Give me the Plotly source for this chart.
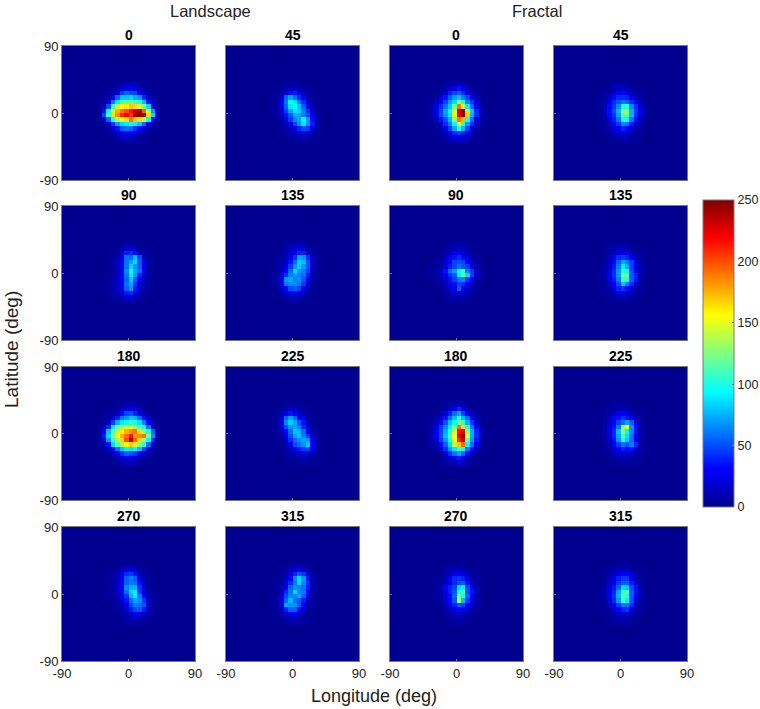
import numpy as np
import plotly.graph_objects as go

# counts, central 14x14 bins only (rows go top to bottom, lat +39 .. -39)
# everything outside that window is left at 0
landscape_0 = [
    [0,0,1,2,4,7,10,12,10,6,3,1,0,0],
    [0,0,2,4,8,15,25,28,20,12,6,3,1,0],
    [0,1,3,10,22,45,55,50,48,32,18,7,2,0],
    [0,2,8,25,55,80,80,85,75,68,40,15,5,1],
    [1,4,18,60,90,110,115,120,110,100,78,35,8,2],
    [2,12,50,110,145,155,160,170,165,150,125,85,25,4],
    [4,35,95,150,175,190,200,215,230,240,195,140,70,10],
    [5,50,110,160,185,210,220,205,245,250,240,165,85,12],
    [3,15,55,105,140,150,165,190,170,165,145,95,35,6],
    [1,5,15,45,70,85,90,95,90,80,58,28,8,2],
    [0,2,6,18,35,55,60,55,45,32,18,8,3,1],
    [0,1,3,8,16,25,30,26,18,12,6,3,1,0],
    [0,0,2,4,7,12,14,12,8,5,3,1,0,0],
    [0,0,1,2,3,5,6,5,4,3,1,0,0,0],
]
landscape_45 = [
    [0,0,0,1,1,3,5,5,4,2,1,0,0,0],
    [0,0,1,1,3,7,12,13,10,6,3,1,0,0],
    [0,0,1,3,7,18,35,38,28,14,6,2,1,0],
    [0,1,1,5,15,55,72,58,42,24,10,4,1,0],
    [0,1,2,7,25,60,95,88,60,42,20,6,2,0],
    [0,1,2,7,25,55,88,95,78,55,32,10,2,0],
    [0,0,2,6,20,45,70,88,82,62,45,18,4,1],
    [0,0,1,4,14,35,52,72,72,62,50,22,5,1],
    [0,0,1,3,8,20,45,65,72,92,68,32,7,2],
    [0,0,0,2,5,12,25,48,68,88,68,38,9,2],
    [0,0,0,1,3,6,12,25,40,50,46,20,6,1],
    [0,0,0,1,2,4,8,12,18,22,18,9,4,1],
    [0,0,0,0,1,2,4,6,9,10,8,4,2,0],
    [0,0,0,0,0,1,2,3,4,4,3,2,1,0],
]
fractal_0 = [
    [0,0,1,1,3,6,10,12,8,4,2,1,0,0],
    [0,0,1,3,7,15,25,35,22,12,6,2,1,0],
    [0,1,3,8,20,38,48,55,42,28,12,4,1,0],
    [0,2,6,18,35,55,70,78,62,48,28,10,2,1],
    [1,4,12,30,48,70,85,130,95,62,45,18,4,1],
    [2,6,22,42,60,80,120,190,145,90,58,32,8,2],
    [2,8,28,48,72,92,145,225,250,165,80,42,14,3],
    [2,6,24,48,68,88,150,220,250,170,75,42,12,3],
    [1,4,14,35,50,75,125,190,175,98,60,28,6,1],
    [1,2,6,20,42,62,92,155,105,70,42,15,4,1],
    [0,1,3,10,25,45,72,100,78,48,24,8,2,1],
    [0,0,1,5,12,25,40,45,38,20,10,4,1,0],
    [0,0,1,2,6,12,20,24,20,12,6,2,1,0],
    [0,0,0,1,3,6,10,12,10,6,3,2,1,0],
]
fractal_45 = [
    [0,0,0,1,2,4,6,6,4,2,1,0,0,0],
    [0,0,1,1,4,9,14,14,11,6,3,1,0,0],
    [0,0,1,3,8,16,30,32,24,14,6,2,1,0],
    [0,1,2,6,15,32,40,42,38,24,12,4,1,0],
    [0,1,3,8,24,40,52,60,55,42,28,10,2,1],
    [0,1,4,12,32,45,65,100,105,65,42,20,4,1],
    [0,1,4,14,34,48,75,125,130,75,46,24,6,1],
    [0,1,4,12,32,44,70,115,120,75,42,20,4,1],
    [0,1,3,8,24,38,60,100,95,60,36,14,3,1],
    [0,0,2,5,14,30,44,65,60,38,24,8,2,1],
    [0,0,1,3,8,18,30,40,32,20,10,4,1,0],
    [0,0,0,1,4,9,16,20,16,9,4,2,1,0],
    [0,0,0,1,2,5,9,10,9,5,3,1,0,0],
    [0,0,0,0,1,2,4,5,5,3,2,1,0,0],
]
landscape_90 = [
    [0,0,0,1,1,3,6,7,5,2,1,0,0,0],
    [0,0,1,1,3,7,15,18,10,5,2,1,0,0],
    [0,0,1,2,5,14,38,42,35,15,6,2,1,0],
    [0,0,1,3,8,24,58,58,78,50,15,4,1,0],
    [0,0,1,4,12,28,60,72,85,52,22,6,1,0],
    [0,0,1,4,12,28,60,85,68,55,28,8,2,0],
    [0,1,2,5,14,28,65,95,72,58,25,7,2,1],
    [0,1,2,6,14,28,60,90,68,38,20,6,2,1],
    [0,1,3,7,14,28,55,80,55,32,14,5,1,0],
    [1,2,4,8,16,26,60,72,45,22,10,4,1,0],
    [1,2,4,8,14,24,55,68,36,16,8,3,1,0],
    [0,1,3,6,10,16,35,40,20,10,5,2,1,0],
    [0,1,2,4,6,10,14,16,10,6,3,1,0,0],
    [0,0,1,2,3,5,8,8,6,3,2,1,0,0],
]
landscape_135 = [
    [0,0,0,0,1,3,6,10,10,6,2,1,0,0],
    [0,0,0,1,2,6,12,18,22,15,6,2,1,0],
    [0,0,0,1,4,9,18,32,40,38,20,6,2,0],
    [0,0,1,2,6,12,26,42,72,68,42,12,2,1],
    [0,0,1,3,7,15,35,58,82,78,52,16,3,1],
    [0,1,1,4,10,22,45,68,82,68,52,16,3,1],
    [0,1,2,5,12,30,58,85,68,62,48,14,2,0],
    [0,1,3,7,18,42,64,68,62,58,38,10,2,0],
    [0,1,3,8,24,68,72,62,66,52,26,8,1,0],
    [0,1,2,6,24,62,66,66,62,44,16,5,1,0],
    [0,0,2,4,14,32,50,54,48,26,10,3,1,0],
    [0,0,1,2,6,14,24,28,22,12,5,2,0,0],
    [0,0,0,1,3,6,10,12,10,6,2,1,0,0],
    [0,0,0,0,1,2,4,5,4,2,1,0,0,0],
]
fractal_90 = [
    [0,0,0,1,2,4,6,8,6,3,1,0,0,0],
    [0,0,1,2,4,6,12,15,10,6,2,1,0,0],
    [0,0,1,3,7,14,25,28,20,11,4,2,1,0],
    [0,1,2,6,14,26,35,42,32,20,9,3,1,0],
    [0,1,3,7,16,30,48,50,48,30,16,6,1,0],
    [1,2,4,10,22,38,48,60,52,46,22,8,2,0],
    [1,3,8,18,35,58,70,95,110,62,46,16,4,1],
    [1,2,6,14,28,42,52,90,120,85,48,14,3,1],
    [0,1,4,9,20,34,46,62,66,44,32,10,2,1],
    [0,1,2,6,14,26,34,48,42,30,16,5,1,0],
    [0,0,1,3,7,16,24,52,24,16,8,3,1,0],
    [0,0,0,2,4,9,16,16,14,8,4,1,0,0],
    [0,0,0,1,2,5,7,9,7,4,2,1,0,0],
    [0,0,0,0,1,2,4,5,4,2,1,0,0,0],
]
fractal_135 = [
    [0,0,0,1,2,3,5,5,4,2,1,0,0,0],
    [0,0,0,1,3,7,13,12,9,5,2,1,0,0],
    [0,0,1,2,6,14,24,28,24,16,6,2,0,0],
    [0,0,1,4,11,25,40,45,40,28,12,3,1,0],
    [0,1,1,5,14,32,55,72,62,48,24,7,1,0],
    [0,1,2,6,18,36,62,90,72,46,26,8,1,0],
    [1,1,3,8,22,42,68,105,95,50,30,10,2,0],
    [1,2,4,10,24,42,68,120,115,54,40,12,2,0],
    [0,1,3,8,22,36,62,110,100,54,36,10,2,0],
    [0,1,2,6,14,30,50,80,62,42,20,6,1,0],
    [0,0,2,4,8,18,38,44,34,20,8,3,1,0],
    [0,0,1,2,4,10,20,22,16,9,4,2,0,0],
    [0,0,0,1,2,5,9,10,9,5,2,1,0,0],
    [0,0,0,0,1,2,4,4,4,2,1,0,0,0],
]
landscape_180 = [
    [0,0,0,1,2,5,8,10,8,4,2,1,0,0],
    [0,0,1,2,6,12,22,26,18,9,4,2,0,0],
    [0,1,3,6,15,32,48,52,40,25,12,4,1,0],
    [0,2,6,15,38,60,68,80,75,58,35,12,3,1],
    [1,5,15,45,75,90,95,108,98,88,62,30,7,2],
    [2,12,42,90,120,132,145,150,128,115,95,62,18,3],
    [5,30,78,115,145,160,175,185,190,165,135,100,55,8],
    [6,38,85,125,155,175,190,215,180,185,190,125,68,10],
    [3,25,70,108,135,165,200,235,195,165,135,95,42,6],
    [2,10,35,85,115,132,155,170,145,128,105,58,15,3],
    [1,4,12,32,60,80,92,88,92,78,50,20,5,1],
    [0,2,4,12,25,42,55,50,45,30,14,6,2,0],
    [0,1,2,5,10,20,26,28,22,12,6,2,1,0],
    [0,0,1,2,4,8,12,12,10,6,3,1,0,0],
]
landscape_225 = [
    [0,0,0,1,2,4,6,6,4,2,1,0,0,0],
    [0,0,1,2,4,9,14,12,7,4,2,1,0,0],
    [0,0,1,3,8,24,35,28,16,9,4,1,0,0],
    [0,0,1,4,18,55,70,56,30,20,9,3,1,0],
    [0,0,1,5,22,65,82,72,52,36,14,4,1,0],
    [0,0,1,4,18,48,68,72,62,42,20,5,1,0],
    [0,0,1,3,12,32,58,80,76,58,30,8,2,0],
    [0,0,0,2,8,22,50,72,80,62,46,15,3,1],
    [0,0,0,2,5,15,42,58,66,72,68,26,5,1],
    [0,0,0,1,3,10,24,50,58,68,80,32,7,1],
    [0,0,0,0,2,6,14,24,35,45,48,24,6,1],
    [0,0,0,0,1,3,7,10,16,22,20,10,4,1],
    [0,0,0,0,0,2,4,6,8,10,8,5,2,1],
    [0,0,0,0,0,1,2,3,4,5,4,2,1,0],
]
fractal_180 = [
    [0,0,0,1,3,6,10,14,9,5,2,1,0,0],
    [0,0,1,3,7,15,28,40,24,12,6,2,1,0],
    [0,1,3,8,20,38,58,72,48,28,12,4,1,0],
    [1,2,6,18,35,58,78,100,78,58,30,10,2,1],
    [1,4,12,32,52,78,95,125,105,75,45,18,4,1],
    [2,6,22,45,65,90,122,190,165,102,62,34,8,2],
    [2,8,28,48,72,102,145,215,225,130,75,42,12,2],
    [2,8,28,50,78,108,155,225,245,150,75,42,12,2],
    [2,6,22,45,68,98,150,210,230,120,70,38,10,1],
    [1,3,12,34,55,85,140,170,195,92,58,25,6,1],
    [0,1,5,16,42,68,88,110,98,62,35,12,2,1],
    [0,0,2,6,22,42,60,72,56,32,14,5,1,0],
    [0,0,1,3,10,18,30,38,28,14,6,2,1,0],
    [0,0,0,1,4,8,14,18,12,6,3,1,0,0],
]
fractal_225 = [
    [0,0,0,1,2,3,5,6,4,2,1,0,0,0],
    [0,0,1,1,3,7,12,11,8,4,2,1,0,0],
    [0,0,1,2,6,14,26,28,20,11,4,2,0,0],
    [0,0,1,4,10,25,35,44,36,24,9,3,1,0],
    [0,1,2,5,14,30,48,60,72,54,24,6,1,0],
    [0,1,2,7,20,34,60,125,150,68,34,9,2,0],
    [0,1,2,8,22,40,78,130,92,64,36,11,2,0],
    [0,1,2,6,20,40,72,110,86,58,32,9,2,0],
    [0,1,2,4,16,34,68,100,82,58,30,9,2,0],
    [0,0,1,3,10,24,46,60,50,62,42,8,2,1],
    [0,0,0,2,6,16,30,38,32,36,20,6,2,1],
    [0,0,0,1,3,8,16,18,16,12,8,4,2,1],
    [0,0,0,0,2,5,8,10,9,7,6,4,2,1],
    [0,0,0,0,1,2,4,5,4,4,3,2,1,0],
]
landscape_270 = [
    [0,0,0,1,2,4,6,8,6,3,1,0,0,0],
    [0,0,1,2,5,11,20,20,14,6,3,1,0,0],
    [0,0,2,4,10,22,42,46,36,15,6,2,0,0],
    [0,1,2,6,14,26,55,62,54,24,10,3,1,0],
    [0,1,3,7,15,28,54,62,58,36,14,4,1,0],
    [0,1,3,7,16,30,66,75,75,44,20,6,1,0],
    [0,1,3,6,14,28,58,85,90,44,22,8,2,1],
    [0,1,2,4,10,22,44,75,90,62,30,9,2,1],
    [0,0,1,3,7,16,36,58,72,66,44,14,3,1],
    [0,0,1,2,5,10,26,48,62,58,52,16,4,1],
    [0,0,0,1,3,7,18,36,48,52,38,14,4,1],
    [0,0,0,1,2,5,10,22,28,26,15,7,2,0],
    [0,0,0,0,2,3,6,11,13,10,6,3,1,0],
    [0,0,0,0,1,2,3,6,7,5,2,1,0,0],
]
landscape_315 = [
    [0,0,0,0,1,2,5,8,10,7,2,1,0,0],
    [0,0,0,1,2,5,11,18,24,16,6,2,0,0],
    [0,0,0,1,3,8,18,40,52,44,20,5,1,0],
    [0,0,1,2,5,12,30,65,85,68,35,8,1,0],
    [0,0,1,3,6,18,42,60,85,64,42,12,2,0],
    [0,0,1,3,8,24,56,68,64,58,38,10,2,0],
    [0,0,1,4,12,40,60,85,64,62,32,8,1,0],
    [0,0,2,5,16,48,64,64,72,54,24,6,1,0],
    [0,1,2,6,22,56,76,58,54,38,14,4,1,0],
    [0,1,2,6,24,72,68,66,54,28,9,3,1,0],
    [0,0,2,4,14,38,55,54,32,16,6,2,0,0],
    [0,0,1,2,6,16,28,28,16,8,3,1,0,0],
    [0,0,0,1,3,7,12,12,8,4,2,1,0,0],
    [0,0,0,0,1,2,5,5,4,2,1,0,0,0],
]
fractal_270 = [
    [0,0,0,1,2,3,5,5,4,2,1,0,0,0],
    [0,0,0,1,3,7,10,12,9,5,2,1,0,0],
    [0,0,1,2,6,13,24,30,22,13,4,2,0,0],
    [0,1,2,4,11,22,40,44,38,22,9,3,1,0],
    [0,1,2,5,14,26,40,50,54,34,16,6,1,0],
    [1,2,4,10,30,38,48,85,90,50,28,8,2,0],
    [0,1,3,9,22,38,52,95,115,50,36,14,2,0],
    [0,1,2,7,20,34,56,120,100,58,30,10,2,0],
    [0,1,2,5,16,32,52,130,78,46,26,8,2,0],
    [0,0,1,4,10,24,38,52,46,30,16,5,1,0],
    [0,0,0,2,5,14,24,30,26,16,8,3,1,0],
    [0,0,0,1,3,7,13,16,13,7,4,2,0,0],
    [0,0,0,1,2,4,7,8,7,4,2,1,0,0],
    [0,0,0,0,1,2,4,5,4,2,1,0,0,0],
]
fractal_315 = [
    [0,0,0,1,2,2,5,5,4,2,1,0,0,0],
    [0,0,0,1,3,7,12,13,10,5,2,1,0,0],
    [0,0,1,2,6,13,22,28,30,20,6,2,0,0],
    [0,0,1,4,10,22,38,45,45,28,11,3,1,0],
    [0,1,2,5,14,28,46,54,54,38,20,6,1,0],
    [0,1,2,7,18,35,55,85,80,50,34,9,1,0],
    [0,1,2,8,24,40,72,105,115,54,36,11,2,0],
    [0,1,3,10,28,44,76,115,100,54,32,10,2,0],
    [0,1,2,6,20,40,68,110,90,50,24,7,1,0],
    [0,0,1,4,14,28,44,62,58,42,16,5,1,0],
    [0,0,1,2,7,16,30,40,44,22,9,3,1,0],
    [0,0,0,1,4,9,16,20,16,10,4,2,0,0],
    [0,0,0,1,2,5,8,10,8,5,2,1,0,0],
    [0,0,0,0,1,2,4,5,4,2,1,0,0,0],
]

panel_titles = [
    ["0", "45", "0", "45"],
    ["90", "135", "90", "135"],
    ["180", "225", "180", "225"],
    ["270", "315", "270", "315"],
]
panel_data = [
    [landscape_0, landscape_45, fractal_0, fractal_45],
    [landscape_90, landscape_135, fractal_90, fractal_135],
    [landscape_180, landscape_225, fractal_180, fractal_225],
    [landscape_270, landscape_315, fractal_270, fractal_315],
]
tick_vals = [-90, 0, 90]
tick_text = ["-90", "0", "90"]
cbar_ticks = [0, 50, 100, 150, 200, 250]

W, H = 760, 709
col_px = [(62, 195), (226, 359), (390, 523), (554, 687)]
row_px = [(46, 180), (206, 340), (367, 500), (527, 661)]

# matlab jet
jet = [
    [0.0, "rgb(0,0,143)"],
    [0.125, "rgb(0,0,255)"],
    [0.375, "rgb(0,255,255)"],
    [0.625, "rgb(255,255,0)"],
    [0.875, "rgb(255,0,0)"],
    [1.0, "rgb(128,0,0)"],
]

centers = np.arange(-87, 90, 6)
FONT = "Liberation Sans, Arial, sans-serif"
GREY = "#7a7a7a"
TXT = "#222222"


def label(text, px, py, size, angle=0):
    return dict(text=text, x=px / W, y=1 - py / H, xref="paper", yref="paper",
                xanchor="center", yanchor="middle", showarrow=False, textangle=angle,
                font=dict(family=FONT, size=size, color=TXT))


fig = go.Figure()
annotations = []
n = 0
for r in range(4):
    for c in range(4):
        n += 1
        z = np.zeros((30, 30))
        # rows come top-down, y axis goes bottom-up
        z[8:22, 8:22] = np.array(panel_data[r][c])[::-1]
        sx = "" if n == 1 else str(n)
        fig.add_trace(go.Heatmap(z=z, x=centers, y=centers, coloraxis="coloraxis",
                                 xaxis="x" + sx, yaxis="y" + sx))
        x0, x1 = col_px[c]
        y0, y1 = row_px[r]
        fig.layout["xaxis" + sx] = dict(
            domain=[x0 / W, x1 / W], range=[-90, 90], anchor="y" + sx,
            tickmode="array", tickvals=tick_vals,
            ticktext=tick_text if r == 3 else ["", "", ""],
            ticks="inside", ticklen=2, tickcolor=GREY, showgrid=False, zeroline=False,
            showline=True, mirror=True, linecolor=GREY, linewidth=1)
        fig.layout["yaxis" + sx] = dict(
            domain=[1 - y1 / H, 1 - y0 / H], range=[-90, 90], anchor="x" + sx,
            tickmode="array", tickvals=tick_vals,
            ticktext=tick_text if c == 0 else ["", "", ""],
            ticks="inside", ticklen=2, tickcolor=GREY, showgrid=False, zeroline=False,
            showline=True, mirror=True, linecolor=GREY, linewidth=1)
        annotations.append(dict(
            text="<b>" + panel_titles[r][c] + "</b>", x=(x0 + x1) / 2 / W, y=1 - (y0 - 1) / H,
            xref="paper", yref="paper", xanchor="center", yanchor="bottom",
            showarrow=False, font=dict(family=FONT, size=14, color="#000000")))

annotations.append(label("Landscape", 211, 11, 16.5))
annotations.append(label("Fractal", 537, 11, 16.5))
annotations.append(label("Longitude (deg)", 374, 696, 18))
annotations.append(label("Latitude (deg)", 11, 350, 19, angle=-90))

fig.update_layout(
    width=W, height=H,
    margin=dict(l=0, r=0, t=0, b=0, autoexpand=False),
    paper_bgcolor="white",
    plot_bgcolor="rgb(0,0,143)",
    font=dict(family=FONT, size=13, color=TXT),
    annotations=annotations,
    coloraxis=dict(
        colorscale=jet, cmin=0, cmax=250,
        colorbar=dict(
            x=703 / W, xanchor="left", xpad=0, ypad=0,
            y=1 - 507 / H, yanchor="bottom", lenmode="fraction", len=307 / H,
            thicknessmode="pixels", thickness=31,
            tickvals=cbar_ticks, ticks="inside", ticklen=2, tickcolor=GREY,
            outlinecolor=GREY, outlinewidth=1,
            tickfont=dict(family=FONT, size=12.5, color=TXT)),
    ),
)

fig.write_html("out.html", config={"displayModeBar": False},
               post_script="document.body.style.margin='0';document.body.style.overflow='hidden';")
